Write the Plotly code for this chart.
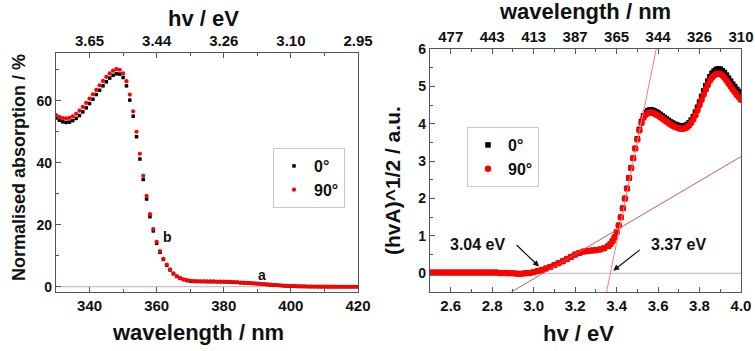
import plotly.graph_objects as go

# ---------------- Left panel data: normalised absorption vs wavelength ----------------
wavelength_nm = [330, 331, 332, 333, 334, 335, 336, 337, 338, 339,
                 340, 341, 342, 343, 344, 345, 346, 347, 348, 349,
                 350, 351, 352, 353, 354, 355, 356, 357, 358, 359,
                 360, 361, 362, 363, 364, 365, 366, 367, 368, 369,
                 370, 371, 372, 373, 374, 375, 376, 377, 378, 379,
                 380, 381, 382, 383, 384, 385, 386, 387, 388, 389,
                 390, 391, 392, 393, 394, 395, 396, 397, 398, 399,
                 400, 401, 402, 403, 404, 405, 406, 407, 408, 409,
                 410, 411, 412, 413, 414, 415, 416, 417, 418, 419, 420]

absorb_0deg = [54.4, 53.7, 53.2, 53.0, 53.1, 53.6, 54.3, 55.2, 56.4, 57.7,
               59.1, 60.5, 62.0, 63.4, 64.8, 66.1, 67.3, 68.2, 68.7, 68.6,
               67.5, 64.8, 60.2, 55.0, 48.4, 41.2, 34.6, 28.3, 22.6, 18.0,
               14.0, 11.1, 8.8, 6.9, 5.4, 4.2, 3.3, 2.7, 2.3, 2.0,
               1.8, 1.75, 1.7, 1.7, 1.7, 1.65, 1.65, 1.65, 1.6, 1.6,
               1.6, 1.55, 1.5, 1.45, 1.4, 1.3, 1.25, 1.2, 1.1, 1.05,
               1.0, 0.9, 0.8, 0.7, 0.6, 0.5, 0.45, 0.4, 0.3, 0.25,
               0.2, 0.15, 0.12, 0.1, 0.08, 0.06, 0.05, 0.04, 0.03, 0.02,
               0.02, 0.01, 0.01, 0.0, 0.0, 0.0, 0.0, 0.0, 0.0, 0.0, 0.0]

absorb_90deg = [55.4, 54.8, 54.4, 54.3, 54.5, 55.0, 55.8, 56.8, 58.0, 59.3,
                60.7, 62.1, 63.5, 65.0, 66.4, 67.7, 68.8, 69.7, 70.2, 70.0,
                68.8, 66.3, 62.0, 56.6, 50.0, 42.9, 35.8, 29.3, 23.4, 18.6,
                14.5, 11.5, 9.0, 7.1, 5.6, 4.3, 3.4, 2.8, 2.4, 2.1,
                1.9, 1.8, 1.75, 1.75, 1.7, 1.7, 1.7, 1.7, 1.65, 1.65,
                1.65, 1.6, 1.55, 1.5, 1.45, 1.35, 1.3, 1.25, 1.15, 1.1,
                1.0, 0.95, 0.85, 0.75, 0.65, 0.55, 0.5, 0.4, 0.35, 0.3,
                0.22, 0.17, 0.14, 0.11, 0.09, 0.07, 0.06, 0.05, 0.04, 0.03,
                0.02, 0.02, 0.01, 0.01, 0.0, 0.0, 0.0, 0.0, 0.0, 0.0, 0.0]

left_x_ticks = [340, 360, 380, 400, 420]
left_x_minor = [330, 350, 370, 390, 410]
left_top_labels = ["3.65", "3.44", "3.26", "3.10", "2.95"]
left_y_ticks = [0, 20, 40, 60]
left_y_minor = [10, 30, 50, 70]

# ---------------- Right panel data: Tauc plot ----------------
photon_energy_eV = [2.50, 2.52, 2.54, 2.56, 2.58, 2.60, 2.62, 2.64, 2.66, 2.68,
                    2.70, 2.72, 2.74, 2.76, 2.78, 2.80, 2.82, 2.84, 2.86, 2.88,
                    2.90, 2.92, 2.94, 2.96, 2.98, 3.00, 3.02, 3.04, 3.06, 3.08,
                    3.10, 3.12, 3.14, 3.16, 3.18, 3.20, 3.22, 3.24, 3.26, 3.28,
                    3.30, 3.32, 3.34, 3.36, 3.37, 3.38, 3.39,
                    3.40, 3.41, 3.42, 3.43, 3.44, 3.45, 3.46, 3.47, 3.48, 3.49,
                    3.50, 3.51, 3.52, 3.53, 3.54, 3.55, 3.56, 3.57, 3.58, 3.59,
                    3.60, 3.61, 3.62, 3.63, 3.64, 3.65, 3.66, 3.67, 3.68, 3.69,
                    3.70, 3.71, 3.72, 3.73, 3.74, 3.75, 3.76, 3.77, 3.78, 3.79,
                    3.80, 3.81, 3.82, 3.83, 3.84, 3.85, 3.86, 3.87, 3.88, 3.89,
                    3.90, 3.91, 3.92, 3.93, 3.94, 3.95, 3.96, 3.97, 3.98, 3.99, 4.00]

tauc_90deg = [0.02, 0.02, 0.02, 0.02, 0.02, 0.02, 0.02, 0.02, 0.02, 0.02,
              0.02, 0.02, 0.02, 0.02, 0.02, 0.02, 0.02, 0.01, 0.01, 0.00,
              0.00, -0.01, -0.01, 0.00, 0.01, 0.03, 0.06, 0.09, 0.13, 0.17,
              0.22, 0.27, 0.32, 0.38, 0.44, 0.50, 0.54, 0.58, 0.60, 0.61,
              0.62, 0.64, 0.67, 0.73, 0.78, 0.86, 0.96,
              1.10, 1.28, 1.50, 1.74, 2.00, 2.27, 2.55, 2.82, 3.08, 3.34,
              3.58, 3.82, 4.02, 4.16, 4.24, 4.28, 4.30, 4.30, 4.28, 4.25,
              4.22, 4.18, 4.14, 4.10, 4.06, 4.02, 3.98, 3.95, 3.92, 3.90,
              3.88, 3.87, 3.87, 3.88, 3.91, 3.96, 4.03, 4.12, 4.23, 4.36,
              4.50, 4.64, 4.78, 4.92, 5.04, 5.15, 5.23, 5.29, 5.33, 5.34,
              5.33, 5.29, 5.23, 5.16, 5.08, 5.00, 4.92, 4.84, 4.77, 4.71, 4.64]

tauc_0deg = [0.02, 0.02, 0.02, 0.02, 0.02, 0.02, 0.02, 0.02, 0.02, 0.02,
             0.02, 0.02, 0.02, 0.02, 0.02, 0.02, 0.02, 0.01, 0.01, 0.00,
             0.00, -0.01, -0.01, 0.00, 0.01, 0.03, 0.06, 0.09, 0.13, 0.17,
             0.22, 0.27, 0.32, 0.38, 0.44, 0.50, 0.54, 0.58, 0.60, 0.61,
             0.62, 0.64, 0.67, 0.73, 0.78, 0.86, 0.96,
             1.10, 1.28, 1.50, 1.74, 2.00, 2.27, 2.55, 2.82, 3.08, 3.34,
             3.60, 3.85, 4.06, 4.21, 4.30, 4.35, 4.37, 4.37, 4.35, 4.32,
             4.29, 4.25, 4.21, 4.17, 4.13, 4.09, 4.05, 4.02, 3.99, 3.97,
             3.95, 3.94, 3.94, 3.95, 3.98, 4.03, 4.10, 4.19, 4.31, 4.44,
             4.58, 4.73, 4.88, 5.02, 5.14, 5.26, 5.35, 5.41, 5.45, 5.47,
             5.46, 5.42, 5.37, 5.30, 5.22, 5.14, 5.06, 4.99, 4.92, 4.86, 4.80]

right_x_ticks = [2.6, 2.8, 3.0, 3.2, 3.4, 3.6, 3.8, 4.0]
right_x_minor = [2.5, 2.7, 2.9, 3.1, 3.3, 3.5, 3.7, 3.9]
right_top_labels = ["477", "443", "413", "387", "365", "344", "326", "310"]
right_y_ticks = [0, 1, 2, 3, 4, 5, 6]
right_y_minor = [-0.5, 0.5, 1.5, 2.5, 3.5, 4.5, 5.5]

# Tangent fits (onset energy in eV, slope in a.u./eV)
fit_onsets = [3.045, 3.370]
fit_slopes = [3.27, 27.1]
fit_colors = ["#c85a5a", "#ff7a7a"]
fit_labels = ["3.04 eV", "3.37 eV"]

# Axis ranges
left_xrange = [330, 420]
left_yrange = [-1.7, 75.4]
right_xrange = [2.5, 4.0]
right_yrange = [-0.5, 6.0]

W, H = 755, 351
FONT = "Liberation Sans, Arial, sans-serif"
AX = "#555555"
TXT = "#111111"


def px(x):
    return x / W


def py(y):
    return 1 - y / H


def bold(labels):
    return ["<b>%s</b>" % t for t in labels]


fig = go.Figure()

fig.add_trace(go.Scatter(x=wavelength_nm, y=absorb_0deg, mode="markers", name="0°",
                         marker=dict(symbol="square", size=3.5, color="black"),
                         xaxis="x", yaxis="y", legend="legend"))
fig.add_trace(go.Scatter(x=wavelength_nm, y=absorb_90deg, mode="markers", name="90°",
                         marker=dict(symbol="circle", size=4.2, color="#ff0000"),
                         xaxis="x", yaxis="y", legend="legend"))
fig.add_trace(go.Scatter(x=[None], y=[None], mode="markers", showlegend=False,
                         xaxis="x2", yaxis="y", hoverinfo="skip"))

fig.add_trace(go.Scatter(x=photon_energy_eV, y=tauc_0deg, mode="markers", name="0°",
                         marker=dict(symbol="square", size=5.5, color="black"),
                         xaxis="x3", yaxis="y2", legend="legend2"))
fig.add_trace(go.Scatter(x=photon_energy_eV, y=tauc_90deg, mode="markers", name="90°",
                         marker=dict(symbol="circle", size=6.5, color="#ff0000"),
                         xaxis="x3", yaxis="y2", legend="legend2"))
fig.add_trace(go.Scatter(x=[None], y=[None], mode="markers", showlegend=False,
                         xaxis="x4", yaxis="y2", hoverinfo="skip"))

for e0, s, c in zip(fit_onsets, fit_slopes, fit_colors):
    xa = max(right_xrange[0], e0 + right_yrange[0] / s)
    xb = min(right_xrange[1], e0 + right_yrange[1] / s)
    fig.add_trace(go.Scatter(x=[xa, xb], y=[s * (xa - e0), s * (xb - e0)], mode="lines",
                             line=dict(color=c, width=1), showlegend=False,
                             xaxis="x3", yaxis="y2", hoverinfo="skip"))

fig.add_shape(type="line", xref="x domain", yref="y", x0=0, x1=1, y0=0, y1=0,
              line=dict(color="#b5b5b5", width=1), layer="below")
fig.add_shape(type="line", xref="x3 domain", yref="y2", x0=0, x1=1, y0=0, y1=0,
              line=dict(color="#b5b5b5", width=1), layer="below")

tickfont_x = dict(family=FONT, size=15, color=TXT)
tickfont_y = dict(family=FONT, size=14, color=TXT)

common = dict(showline=True, linecolor=AX, linewidth=1.3, ticks="inside", ticklen=5,
              tickcolor=AX, tickwidth=1, showgrid=False, zeroline=False, automargin=False)

LD = [px(56), px(358)]
RD = [px(430), px(741)]
LYD = [py(292), py(53)]
RYD = [py(292), py(49)]


def minor(vals):
    return dict(tickvals=vals, ticks="inside", ticklen=3, tickcolor=AX, showgrid=False)


fig.update_layout(
    width=W, height=H, autosize=False,
    margin=dict(l=0, r=0, t=0, b=0, pad=0, autoexpand=False),
    paper_bgcolor="white", plot_bgcolor="white",
    font=dict(family=FONT, color=TXT),
    xaxis=dict(domain=LD, range=left_xrange, anchor="y", tickmode="array",
               tickvals=left_x_ticks, ticktext=bold([str(v) for v in left_x_ticks]),
               tickfont=tickfont_x, minor=minor(left_x_minor), **common),
    xaxis2=dict(overlaying="x", side="top", anchor="y", range=left_xrange, tickmode="array",
                tickvals=left_x_ticks, ticktext=bold(left_top_labels), tickfont=tickfont_x,
                minor=minor(left_x_minor), **common),
    yaxis=dict(domain=LYD, range=left_yrange, anchor="x", mirror=True, tickmode="array",
               tickvals=left_y_ticks, ticktext=bold([str(v) for v in left_y_ticks]),
               tickfont=tickfont_y, minor=minor(left_y_minor), **common),
    xaxis3=dict(domain=RD, range=right_xrange, anchor="y2", tickmode="array",
                tickvals=right_x_ticks, ticktext=bold(["%.1f" % v for v in right_x_ticks]),
                tickfont=tickfont_x, minor=minor(right_x_minor), **common),
    xaxis4=dict(overlaying="x3", side="top", anchor="y2", range=right_xrange, tickmode="array",
                tickvals=right_x_ticks, ticktext=bold(right_top_labels), tickfont=tickfont_x,
                minor=minor(right_x_minor), **common),
    yaxis2=dict(domain=RYD, range=right_yrange, anchor="x3", mirror=True, tickmode="array",
                tickvals=right_y_ticks, ticktext=bold([str(v) for v in right_y_ticks]),
                tickfont=tickfont_y, minor=minor(right_y_minor), **common),
    legend=dict(x=px(273), y=py(148), xanchor="left", yanchor="top",
                bordercolor="#c8c8c8", borderwidth=1, bgcolor="white",
                font=dict(family=FONT, size=16, color=TXT, weight="bold"),
                tracegroupgap=0),
    legend2=dict(x=px(467), y=py(127), xanchor="left", yanchor="top",
                 bordercolor="#c8c8c8", borderwidth=1, bgcolor="white",
                 font=dict(family=FONT, size=16, color=TXT, weight="bold"),
                 tracegroupgap=0),
    showlegend=True,
)

ann = []


def text_at(text, x, y, size, angle=0):
    ann.append(dict(text="<b>%s</b>" % text, x=px(x), y=py(y), xref="paper", yref="paper",
                    showarrow=False, xanchor="center", yanchor="middle", textangle=angle,
                    font=dict(family=FONT, size=size, color=TXT)))


text_at("wavelength / nm", 198, 332, 22)
text_at("hv / eV", 203, 19, 22)
text_at("Normalised absorption / %", 19, 168, 18, -90)
text_at("hv / eV", 578, 333, 22)
text_at("wavelength / nm", 585, 12, 22)
text_at("(hvA)^1/2 / a.u.", 392, 181, 21, -90)
text_at(fit_labels[0], 477, 244, 16)
text_at(fit_labels[1], 678, 244, 16)

ann.append(dict(text="<b>b</b>", x=363.3, y=16.1, xref="x", yref="y", showarrow=False,
                font=dict(family=FONT, size=14, color=TXT)))
ann.append(dict(text="<b>a</b>", x=391.3, y=3.8, xref="x", yref="y", showarrow=False,
                font=dict(family=FONT, size=14, color=TXT)))

ann.append(dict(text="", x=3.026, y=0.18, xref="x3", yref="y2", showarrow=True,
                ax=-24, ay=-23, arrowhead=2, arrowsize=1, arrowwidth=1.2, arrowcolor=TXT))
ann.append(dict(text="", x=3.384, y=0.07, xref="x3", yref="y2", showarrow=True,
                ax=28, ay=-22, arrowhead=2, arrowsize=1, arrowwidth=1.2, arrowcolor=TXT))

fig.update_layout(annotations=ann)

fig.write_html("out.html")
